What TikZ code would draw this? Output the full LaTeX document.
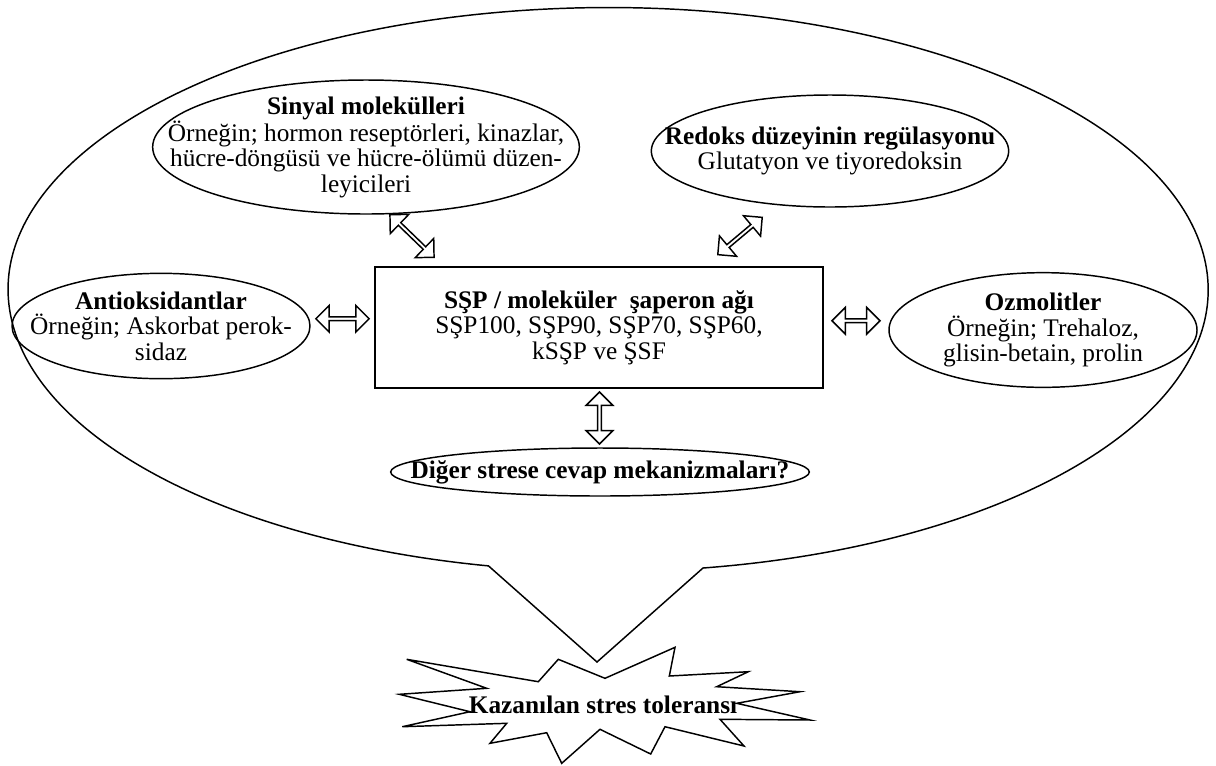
\documentclass[tikz,border=0pt]{standalone}
\usepackage{fontspec}
\setmainfont{Liberation Serif}
\usetikzlibrary{shapes.geometric,shapes.arrows,calc}

\tikzset{
  balon/.style={ellipse, draw, inner sep=0pt},
  yazi/.style={align=center, inner sep=0pt},
  kutu/.style={rectangle, draw, inner sep=0pt, align=center},
  okcift/.style={double arrow, draw, fill=white, inner sep=0pt,
    minimum width=20pt, double arrow head extend=3.5pt}
}

\begin{document}
\begin{tikzpicture}[x=0.75pt,y=-0.75pt,line width=1.1pt,
    every node/.style={font=\fontsize{19}{19}\selectfont}]
  \useasboundingbox (0,0) rectangle (1216,765);

  % big balloon, its tail points down to the starburst
  \draw (703,568) arc[start angle=80.9, end angle=-258.5, x radius=600, y radius=282]
    -- (597,662) -- cycle;

  % ellipses drawn empty, their texts set on top
  \node[balon, minimum width=320pt, minimum height=100.5pt] (sinyal) at (366,147) {};
  \node[yazi] (sinyal-t) at (sinyal)
    {\textbf{Sinyal molekülleri}\\Örneğin; hormon reseptörleri, kinazlar,\\hücre-döngüsü ve hücre-ölümü düzen-\\leyicileri};
  \node[balon, minimum width=268pt, minimum height=84pt] (redoks) at (830,151) {};
  \node[yazi] (redoks-t) at (redoks)
    {\textbf{Redoks düzeyinin regülasyonu}\\Glutatyon ve tiyoredoksin};
  \node[balon, minimum width=223.5pt, minimum height=79pt] (anti) at (161,326) {};
  \node[yazi] (anti-t) at (anti)
    {\textbf{Antioksidantlar}\\Örneğin; Askorbat perok-\\sidaz};
  \node[balon, minimum width=231pt, minimum height=86pt] (ozmo) at (1043,330) {};
  \node[yazi] (ozmo-t) at (ozmo)
    {\textbf{Ozmolitler}\\Örneğin; Trehaloz,\\glisin-betain, prolin};
  \node[kutu, minimum width=336pt, minimum height=90.75pt] (agi) at (599,327.5)
    {\textbf{SŞP / moleküler\ \ şaperon ağı}\\SŞP100, SŞP90, SŞP70, SŞP60,\\kSŞP ve ŞSF};
  \node[balon, minimum width=314pt, minimum height=36pt] (diger) at (600,472) {};
  \node[yazi] (diger-t) at (diger) {\textbf{Diğer strese cevap mekanizmaları?}};

  % hollow double arrows
  \node[okcift, minimum height=40pt, yshift=6pt] (ok1) at ($(anti.east)!0.5!(agi.west)$) {};
  \node[okcift, minimum height=36pt, yshift=6pt] (ok2) at ($(agi.east)!0.5!(ozmo.west)$) {};
  \node[okcift, minimum height=39pt, rotate=90] (ok3) at ($(agi.south)!0.5!(diger.north)$) {};
  \node[okcift, minimum height=46pt, rotate=-44] (ok4) at (412,236) {};
  \node[okcift, minimum height=43.5pt, rotate=40] (ok5) at (740,236) {};

  % starburst
  \draw (406.7,659.3) -- (538.3,681.7) -- (558.3,659.3) -- (605,678.3) -- (675,647.3)
    -- (669.3,676) -- (748.3,671.7) -- (716.7,686.7) -- (800,691.7) -- (736.7,703.3)
    -- (810,720) -- (720,719.3) -- (744,746) -- (665,726.7) -- (650.7,754)
    -- (600,729.3) -- (561.7,763.3) -- (546.7,732.7) -- (490,743.3) -- (506.7,723.3)
    -- (402.3,726.7) -- (470,711.7) -- (399.3,694.3) -- (486.7,688.3) -- cycle;
  \node (tolerans) at (603,705) {\textbf{Kazanılan stres toleransı}};
\end{tikzpicture}
\end{document}
